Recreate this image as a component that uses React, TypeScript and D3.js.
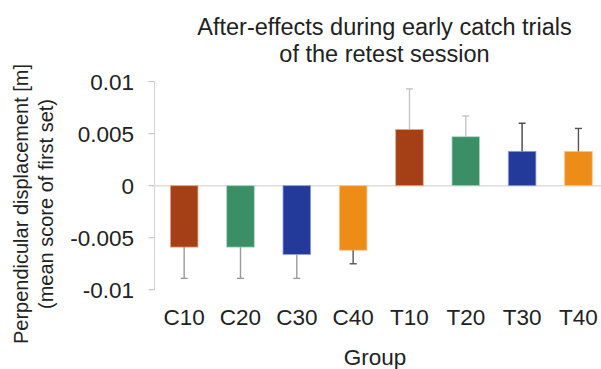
import React from "react";
import * as d3 from "d3";

const groups = ["C10", "C20", "C30", "C40", "T10", "T20", "T30", "T40"];
const means = [-0.0059, -0.0059, -0.0066, -0.0062, 0.0054, 0.0047, 0.0033, 0.0033];
const errors = [0.003, 0.003, 0.0023, 0.0013, 0.0039, 0.002, 0.0027, 0.0022];
const yTicks = [0.01, 0.005, 0, -0.005, -0.01];
const yTickLabels = ["0.01", "0.005", "0", "-0.005", "-0.01"];
const titleLines = ["After-effects during early catch trials", "of the retest session"];
const yLabelLines = ["Perpendicular displacement  [m]", "(mean score of first set)"];
const xLabel = "Group";

const barColors = ["#A54016", "#3A8F66", "#233A9B", "#EE8C18", "#A54016", "#3A8F66", "#233A9B", "#EE8C18"];
const barStrokes = ["#E8A888", "#A8D8BE", "#8C9CE0", "#F8C890", "#E8A888", "#A8D8BE", "#8C9CE0", "#F8C890"];
const errColors = ["#9a9a9a", "#9a9a9a", "#9a9a9a", "#555555", "#c4c4c4", "#c4c4c4", "#444444", "#555555"];

const W = 601;
const H = 369;
const FONT = "'Liberation Sans', Arial, Helvetica, sans-serif";

export default function App() {
  const x = d3.scaleBand<string>().domain(groups).range([156, 606.6]).paddingInner(0.51).paddingOuter(0.255);
  const y = d3.scaleLinear().domain([-0.01, 0.01]).range([289.8, 81.6]);
  const axisX = 154.5;
  const bw = x.bandwidth();

  return (
    <svg width={W} height={H} style={{ position: "absolute", left: 0, top: 0, background: "#fff" }} fontFamily={FONT}>
      <rect x={0} y={0} width={W} height={H} fill="#fff" />
      {/* title */}
      {titleLines.map((t, i) => (
        <text key={t} x={384.5} y={35 + i * 26.7} textAnchor="middle" fontSize={23.5} fill="#222">
          {t}
        </text>
      ))}
      {/* y axis label */}
      {yLabelLines.map((t, i) => (
        <text
          key={t}
          transform={`translate(${28 + i * 25},204) rotate(-90)`}
          textAnchor="middle"
          fontSize={20}
          fill="#222"
        >
          {t}
        </text>
      ))}
      {/* y axis */}
      <line x1={axisX} x2={axisX} y1={y(0.01)} y2={y(-0.01)} stroke="#d4d4d4" strokeWidth={1} />
      {yTicks.map((v, i) => (
        <g key={v}>
          <line x1={axisX - 6} x2={axisX} y1={y(v)} y2={y(v)} stroke="#bdbdbd" strokeWidth={1} />
          <text x={134} y={y(v)} dy="0.36em" textAnchor="end" fontSize={22.5} fill="#222">
            {yTickLabels[i]}
          </text>
        </g>
      ))}
      {/* zero line */}
      <line x1={axisX} x2={W} y1={y(0)} y2={y(0)} stroke="#dedede" strokeWidth={1.5} />
      {/* bars */}
      {groups.map((g, i) => {
        const v = means[i];
        const top = y(Math.max(0, v));
        const bot = y(Math.min(0, v));
        return (
          <rect
            key={g}
            x={x(g)!}
            y={top}
            width={bw}
            height={bot - top}
            fill={barColors[i]}
            stroke={barStrokes[i]}
            strokeWidth={0.8}
          />
        );
      })}
      {/* error bars */}
      {groups.map((g, i) => {
        const v = means[i];
        const cx = x(g)! + bw / 2;
        const end = v + Math.sign(v) * errors[i];
        return (
          <g key={g} stroke={errColors[i]} strokeWidth={1.4}>
            <line x1={cx} x2={cx} y1={y(v)} y2={y(end)} />
            <line x1={cx - 3.5} x2={cx + 3.5} y1={y(end)} y2={y(end)} />
          </g>
        );
      })}
      {/* x labels */}
      {groups.map((g) => (
        <text key={g} x={x(g)! + bw / 2} y={325} textAnchor="middle" fontSize={22.5} fill="#222">
          {g}
        </text>
      ))}
      <text x={375} y={365} textAnchor="middle" fontSize={22.5} fill="#222">
        {xLabel}
      </text>
    </svg>
  );
}
